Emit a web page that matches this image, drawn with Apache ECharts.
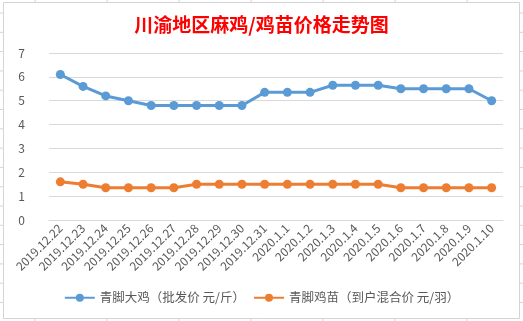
<!DOCTYPE html>
<html><head><meta charset="utf-8">
<script src="https://cdn.jsdelivr.net/npm/echarts@6/dist/echarts.min.js"></script>
<style>html,body{margin:0;padding:0;background:#fff}#c{width:523px;height:321px}</style>
</head><body><div id="c"></div>
<script>
const title = '川渝地区麻鸡/鸡苗价格走势图';
const categories = ['2019.12.22','2019.12.23','2019.12.24','2019.12.25','2019.12.26','2019.12.27','2019.12.28','2019.12.29','2019.12.30','2019.12.31','2020.1.1','2020.1.2','2020.1.3','2020.1.4','2020.1.5','2020.1.6','2020.1.7','2020.1.8','2020.1.9','2020.1.10'];
const seriesNames = ['青脚大鸡（批发价 元/斤）','青脚鸡苗（到户混合价 元/羽）'];
const bigChicken = [6.1,5.6,5.2,5.0,4.8,4.8,4.8,4.8,4.8,5.35,5.35,5.35,5.65,5.65,5.65,5.5,5.5,5.5,5.5,5.0];
const chick = [1.6,1.5,1.35,1.35,1.35,1.35,1.5,1.5,1.5,1.5,1.5,1.5,1.5,1.5,1.5,1.35,1.35,1.35,1.35,1.35];
const yTicks = [0,1,2,3,4,5,6,7];

const chart = echarts.init(document.getElementById('c'), null, {renderer:'canvas'});
const gridColor = '#d9d9d9';
const sheet = [];
for (let y = 13; y < 321; y += 19.3) {
  sheet.push({type:'line', shape:{x1:0,y1:y,x2:3,y2:y}, style:{stroke:'#d4d4d4',lineWidth:1}, silent:true});
  sheet.push({type:'line', shape:{x1:520,y1:y,x2:523,y2:y}, style:{stroke:'#d4d4d4',lineWidth:1}, silent:true});
}
for (let x = 35; x < 523; x += 72) {
  sheet.push({type:'line', shape:{x1:x,y1:0,x2:x,y2:2}, style:{stroke:'#d4d4d4',lineWidth:1}, silent:true});
  sheet.push({type:'line', shape:{x1:x,y1:319,x2:x,y2:321}, style:{stroke:'#d4d4d4',lineWidth:1}, silent:true});
}
sheet.push({type:'rect', shape:{x:3.5,y:2.5,width:516,height:316}, style:{fill:'none',stroke:'#d4d4d4',lineWidth:1}, silent:true});

chart.setOption({
  animation:false,
  backgroundColor:'#fff',
  graphic: sheet,
  title:{text:title, left:'center', top:10, textStyle:{color:'#ff0000', fontSize:19, fontWeight:'bold', fontFamily:'Noto Sans CJK SC'}},
  legend:{bottom:12, left:'center', itemWidth:30, itemHeight:10, itemGap:8,
    textStyle:{color:'#595959', fontSize:12.5, fontFamily:'Noto Sans CJK SC'},
    data: seriesNames},
  grid:{left:49, right:20, top:53, bottom:101},
  xAxis:{type:'category', data:categories, boundaryGap:true,
    axisLine:{show:true, lineStyle:{color:gridColor}}, axisTick:{show:false},
    axisLabel:{rotate:45, color:'#595959', fontSize:12, fontFamily:'Noto Sans CJK SC', interval:0, margin:6}},
  yAxis:{type:'value', min:0, max:7, interval:1,
    axisLine:{show:false}, axisTick:{show:false},
    splitLine:{lineStyle:{color:gridColor, width:1}},
    axisLabel:{color:'#595959', fontSize:12, fontFamily:'Noto Sans CJK SC', margin:24,
      formatter:(v)=> yTicks.includes(v) ? String(v) : ''}},
  series:[
    {name:seriesNames[0], type:'line', data:bigChicken, symbol:'circle', symbolSize:9,
      lineStyle:{color:'#5B9BD5', width:3}, itemStyle:{color:'#5B9BD5'}},
    {name:seriesNames[1], type:'line', data:chick, symbol:'circle', symbolSize:9,
      lineStyle:{color:'#ED7D31', width:3}, itemStyle:{color:'#ED7D31'}}
  ]
});
</script></body></html>
